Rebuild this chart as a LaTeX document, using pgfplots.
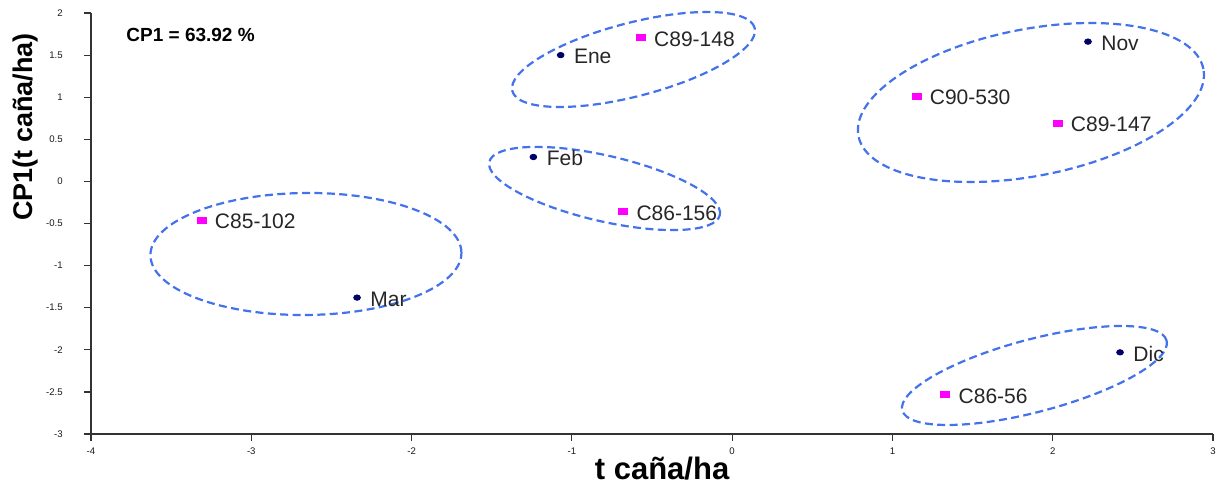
\documentclass[border=0pt]{standalone}
\usepackage{fontspec}
\setmainfont{Liberation Sans}
\usepackage{pgfplots}
\pgfplotsset{compat=1.18}
\usepackage{pgfplotstable}

\definecolor{ellblue}{RGB}{68,114,236}
\definecolor{navydot}{RGB}{0,0,102}
\definecolor{magsq}{RGB}{255,0,255}

\pgfplotstableread{
x y label
-1.07 1.50 Ene
-1.24 0.29 Feb
-2.34 -1.38 Mar
2.22 1.66 Nov
2.42 -2.03 Dic
}\months

\pgfplotstableread{
x y label
-0.57 1.71 C89-148
-0.68 -0.36 C86-156
-3.31 -0.46 C85-102
1.15 1.01 C90-530
2.03 0.69 C89-147
1.33 -2.53 C86-56
}\vars

\begin{document}
\begin{tikzpicture}
\useasboundingbox (0,0) rectangle (610pt,244pt);
\begin{axis}[
 at={(45.5pt,27pt)}, anchor=south west,
 scale only axis, width=561pt, height=210.5pt,
 xmin=-4, xmax=3, ymin=-3, ymax=2, enlargelimits=false,
 axis x line*=bottom, axis y line*=left,
 axis line style={black!80, line width=0.8pt},
 xtick={-4,-3,-2,-1,0,1,2,3},
 ytick={-3,-2.5,-2,-1.5,-1,-0.5,0,0.5,1,1.5,2},
 tick align=outside, major tick length=3.5pt,
 tick style={black!80, line width=0.6pt},
 /pgf/number format/assume math mode=true,
 ticklabel style={font=\fontsize{4.8}{5.5}\selectfont, inner sep=0pt, text=black!90},
 xticklabel style={yshift=-3pt},
 yticklabel style={xshift=-10.5pt},
 clip=false,
 xlabel={t caña/ha},
 ylabel={CP1(t caña/ha)},
 xlabel style={at={(axis description cs:0.509,-0.107)}, anchor=base, font=\bfseries\fontsize{15.5}{18}\selectfont},
 ylabel style={at={(axis description cs:-0.0517,0.729)}, anchor=base, font=\bfseries\fontsize{13.5}{15}\selectfont},
 nodes near coords, point meta=explicit symbolic,
 every node near coord/.style={anchor=west, inner sep=0pt, xshift=6.5pt, yshift=-0.7pt, font=\fontsize{10.5}{12}\selectfont, text=black!85},
]
\addplot[only marks, mark=*, mark size=1.7pt, mark options={fill=navydot, draw=navydot, yscale=0.8}] table[x=x, y=y, meta=label]{\months};
\addplot[only marks, mark=square*, mark size=1.5pt, mark options={fill=magsq, draw=magsq, xscale=1.5}] table[x=x, y=y, meta=label]{\vars};

\draw[ellblue, line width=1.1pt, dash pattern=on 4pt off 2.2pt, rotate around={14.6:(axis cs:-0.6155,1.448)}] (axis cs:-0.6155,1.448) ellipse [x radius=62.6pt, y radius=18.35pt];
\draw[ellblue, line width=1.1pt, dash pattern=on 4pt off 2.2pt, rotate around={-13:(axis cs:-0.796,-0.084)}] (axis cs:-0.796,-0.084) ellipse [x radius=59.15pt, y radius=16.4pt];
\draw[ellblue, line width=1.1pt, dash pattern=on 4pt off 2.2pt, rotate around={0.5:(axis cs:-2.659,-0.862)}] (axis cs:-2.659,-0.862) ellipse [x radius=77.75pt, y radius=30.5pt];
\draw[ellblue, line width=1.1pt, dash pattern=on 4pt off 2.2pt, rotate around={11:(axis cs:1.864,0.937)}] (axis cs:1.864,0.937) ellipse [x radius=87.85pt, y radius=36.7pt];
\draw[ellblue, line width=1.1pt, dash pattern=on 4pt off 2.2pt, rotate around={14.8:(axis cs:1.886,-2.305)}] (axis cs:1.886,-2.305) ellipse [x radius=68.35pt, y radius=18.15pt];

\node[anchor=west, inner sep=0pt, font=\bfseries\fontsize{9.5}{11}\selectfont] at (axis description cs:0.0312,0.948) {CP1 = 63.92 \%};
\end{axis}
\end{tikzpicture}
\end{document}
